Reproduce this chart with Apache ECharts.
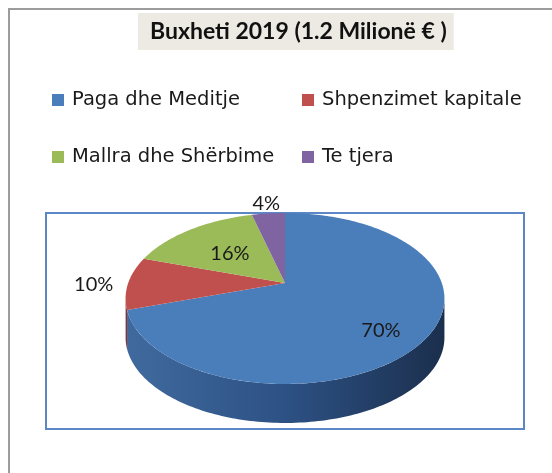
<!DOCTYPE html>
<html>
<head>
    <meta charset="UTF-8">
    <title>Buxheti 2019</title>
    <style>
        html, body {
            height: 100%;
            margin: 0;
            padding: 0;
            background: #fff;
        }
        #chart-container {
            width: 552px;
            height: 473px;
        }
    </style>
</head>
<body>
<div id="chart-container"></div>

<script src="https://cdn.jsdelivr.net/npm/echarts@6/dist/echarts.min.js"></script>
<script>
    // data
    const categories = ['Paga dhe Meditje', 'Shpenzimet kapitale', 'Mallra dhe Shërbime', 'Te tjera'];
    const shares = [70, 10, 16, 4];

    const topColors = ['#4a7ebb', '#c0504d', '#9bbb59', '#8064a2'];
    const sideColors = [
        ['#406a9e', '#2d5184', '#1b2f4d'],
        ['#9a403d', '#8a3734', '#7a2f2d'],
        ['#7c9647', '#6f873f', '#627837'],
        ['#665082', '#5a4773', '#4e3e64']
    ];
    // where each percent label sits (fraction of radius, extra y shift)
    const labelR = [0.7, 1.22, 0.55, 1.15];
    const labelDy = [11, 2, 1, -1];

    // 3d pie in perspective: centre, half axes, perspective factor, thickness
    const PIE = { cx: 285, cy: 283, a: 156.8, b: 82.7, k: 0.181, depth: 39 };

    function project(t, r) {
        const u = r * Math.sin(t), v = r * Math.cos(t);
        const d = 1 + PIE.k * v;
        return [PIE.cx + PIE.a * u / d, PIE.cy - PIE.b * v / d];
    }

    const total = shares.reduce((s, v) => s + v, 0);
    const sideFrom = Math.acos(-PIE.k);
    const sideTo = 2 * Math.PI - sideFrom;

    function arc(t0, t1, dy) {
        const pts = [];
        const steps = Math.max(4, Math.ceil((t1 - t0) / 0.02));
        for (let s = 0; s <= steps; s++) {
            const p = project(t0 + (t1 - t0) * s / steps, 1);
            pts.push([p[0], p[1] + dy]);
        }
        return pts;
    }

    function makeRenderItem(i) {
        return function (params, api) {
            const value = api.value(0);
            const before = shares.slice(0, i).reduce((s, v) => s + v, 0);
            const t0 = before / total * 2 * Math.PI;
            const t1 = (before + value) / total * 2 * Math.PI;
            const children = [];

            // top face
            const top = [project(0, 0)].concat(arc(t0, t1, 0));
            children.push({
                type: 'polygon', z2: 10,
                shape: { points: top },
                style: { fill: topColors[i] }
            });

            // visible side wall
            const s0 = Math.max(t0, sideFrom), s1 = Math.min(t1, sideTo);
            if (s1 > s0) {
                const upper = arc(s0, s1, 0);
                const lower = arc(s0, s1, PIE.depth).reverse();
                children.push({
                    type: 'polygon', z2: 5,
                    shape: { points: upper.concat(lower) },
                    style: {
                        fill: {
                            type: 'linear', x: 0, y: 0, x2: 1, y2: 0,
                            colorStops: [
                                { offset: 0, color: sideColors[i][0] },
                                { offset: 0.5, color: sideColors[i][1] },
                                { offset: 1, color: sideColors[i][2] }
                            ]
                        }
                    }
                });
            }

            // percent label
            const mid = (t0 + t1) / 2;
            const lp = project(mid, labelR[i]);
            children.push({
                type: 'text', z2: 20,
                style: {
                    text: Math.round(value / total * 100) + '%',
                    x: lp[0], y: lp[1] + labelDy[i],
                    align: 'center', verticalAlign: 'middle',
                    fontFamily: 'Lato', fontSize: 20, fill: '#1a1a1a'
                }
            });
            return { type: 'group', children: children };
        };
    }

    const chart = echarts.init(document.getElementById('chart-container'));

    const legendText = {
        fontFamily: 'DejaVu Sans', fontSize: 19.5, color: '#1a1a1a',
        lineHeight: 18, padding: [0, 0, 0, 3]
    };

    const option = {
        animation: false,
        backgroundColor: '#fff',
        title: {
            text: 'Buxheti 2019 (1.2 Milionë € )',
            left: 138,
            top: 13,
            padding: [6, 7, 6, 12],
            backgroundColor: '#eceae2',
            textStyle: { fontFamily: 'Lato', fontWeight: 'bold', fontSize: 23, color: '#111', lineHeight: 25 }
        },
        legend: [{
            data: [categories[0], categories[2]],
            orient: 'vertical',
            left: 47, top: 85,
            icon: 'rect', itemWidth: 12, itemHeight: 12, itemGap: 37,
            textStyle: legendText,
            selectedMode: false
        }, {
            data: [categories[1], categories[3]],
            orient: 'vertical',
            left: 297, top: 85,
            icon: 'rect', itemWidth: 12, itemHeight: 12, itemGap: 37,
            textStyle: legendText,
            selectedMode: false
        }],
        graphic: [{
            type: 'rect', z: -1,
            shape: { x: 9, y: 9, width: 560, height: 480 },
            style: { fill: 'none', stroke: '#9c9c9c', lineWidth: 2 }
        }, {
            type: 'rect', z: -1,
            shape: { x: 46, y: 213, width: 478, height: 216 },
            style: { fill: 'none', stroke: '#5b87c6', lineWidth: 2 }
        }],
        series: categories.map((name, i) => ({
            type: 'custom',
            name: name,
            coordinateSystem: 'none',
            silent: true,
            itemStyle: { color: topColors[i] },
            renderItem: makeRenderItem(i),
            data: [[shares[i]]]
        }))
    };

    chart.setOption(option);
</script>
</body>
</html>
